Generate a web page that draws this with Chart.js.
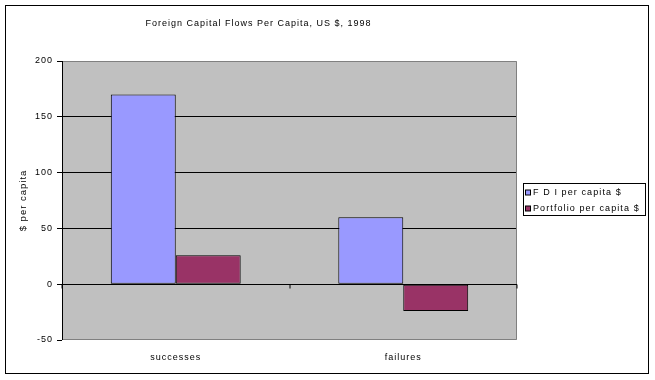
<!DOCTYPE html>
<html><head><meta charset="utf-8">
<script src="https://cdn.jsdelivr.net/npm/chart.js@4/dist/chart.umd.min.js"></script>
<style>html,body{margin:0;padding:0;background:#fff}canvas{display:block}</style>
</head><body>
<canvas id="c" width="655" height="380"></canvas>
<script>
const categories = ["successes", "failures"];
const fdiPerCapita = [170, 60];
const portfolioPerCapita = [26, -24];
const seriesNames = ["F D I per capita $", "Portfolio per capita $"];
const yTicks = [-50, 0, 50, 100, 150, 200];

const FONT = "Liberation Sans, Arial, sans-serif";

const framePlugin = {
  id: 'frame',
  beforeDraw(chart) {
    const {ctx, chartArea: a} = chart;
    ctx.letterSpacing = '1px';
    ctx.save();
    ctx.fillStyle = '#fff';
    ctx.fillRect(0, 0, chart.width, chart.height);
    ctx.strokeStyle = '#000';
    ctx.lineWidth = 1;
    ctx.strokeRect(5.5, 5.5, 643, 368);
    ctx.fillStyle = '#C0C0C0';
    ctx.fillRect(a.left, a.top, a.right - a.left, a.bottom - a.top);
    ctx.restore();
  },
  afterDatasetsDraw(chart) {
    const {ctx, chartArea: a, scales} = chart;
    ctx.save();
    ctx.lineWidth = 1;
    ctx.strokeStyle = '#808080';
    ctx.beginPath();
    ctx.moveTo(a.left, a.top + 0.5); ctx.lineTo(a.right - 0.5, a.top + 0.5);
    ctx.lineTo(a.right - 0.5, a.bottom - 0.5); ctx.lineTo(a.left, a.bottom - 0.5);
    ctx.stroke();
    ctx.strokeStyle = '#000';
    ctx.beginPath();
    ctx.moveTo(a.left + 0.5, a.top); ctx.lineTo(a.left + 0.5, a.bottom);
    ctx.stroke();
    // category axis at zero with tick marks
    const y0 = Math.round(scales.y.getPixelForValue(0)) + 0.5;
    ctx.beginPath();
    ctx.moveTo(a.left, y0); ctx.lineTo(a.right, y0);
    const n = categories.length;
    for (let i = 0; i <= n; i++) {
      const x = Math.round(a.left + (a.right - a.left) * i / n) - 0.5;
      ctx.moveTo(x + 0.5, y0); ctx.lineTo(x + 0.5, y0 + 4);
    }
    ctx.stroke();
    // legend
    const lx = 523.5, ly = 183.5, lw = 122, lh = 32;
    ctx.fillStyle = '#fff';
    ctx.fillRect(lx, ly, lw, lh);
    ctx.strokeStyle = '#000';
    ctx.strokeRect(lx, ly, lw, lh);
    ctx.font = '9px ' + FONT;
    ctx.letterSpacing = '1.1px';
    ctx.textBaseline = 'middle';
    chart.data.datasets.forEach((ds, i) => {
      const yy = ly + 9.5 + i * 16;
      ctx.fillStyle = ds.backgroundColor;
      ctx.fillRect(lx + 2, yy - 3, 5, 5);
      ctx.strokeRect(lx + 2, yy - 3, 5, 5);
      ctx.fillStyle = '#000';
      ctx.fillText(ds.label, lx + 9.5, yy);
    });
    ctx.restore();
  }
};

new Chart(document.getElementById('c'), {
  type: 'bar',
  data: {
    labels: categories,
    datasets: [
      { label: seriesNames[0], data: fdiPerCapita, backgroundColor: '#9999FF', borderColor: '#000', borderWidth: 1, borderSkipped: false },
      { label: seriesNames[1], data: portfolioPerCapita, backgroundColor: '#993366', borderColor: '#000', borderWidth: 1, borderSkipped: false }
    ]
  },
  options: {
    responsive: false,
    animation: false,
    devicePixelRatio: 1,
    layout: { padding: { left: 0, right: 138, top: 0, bottom: 0 } },
    datasets: { bar: { categoryPercentage: 0.571, barPercentage: 1.0 } },
    plugins: {
      legend: { display: false },
      tooltip: { enabled: false },
      title: {
        display: true,
        text: 'Foreign Capital Flows Per Capita, US $, 1998',
        color: '#000',
        font: { family: FONT, size: 9, weight: 'normal', lineHeight: 1.2 },
        padding: { top: 18.5, bottom: 31.7 }
      }
    },
    scales: {
      x: {
        grid: { display: false, drawTicks: false },
        border: { display: false },
        ticks: { color: '#000', font: { family: FONT, size: 9 }, padding: 12 },
        afterFit(s) { s.height = 40; }
      },
      y: {
        min: -50, max: 200,
        afterBuildTicks(s) { s.ticks = yTicks.map(v => ({ value: v })); },
        grid: {
          color: c => (c.tick && (c.tick.value === 200 || c.tick.value === -50)) ? 'rgba(0,0,0,0)' : '#000',
          tickColor: '#000',
          tickLength: 5,
          drawTicks: true
        },
        border: { display: false },
        ticks: { color: '#000', font: { family: FONT, size: 9 }, padding: 4 },
        title: { display: true, text: '$ per capita', color: '#000', font: { family: FONT, size: 9.5 }, padding: { top: 18, bottom: 0 } },
        afterFit(s) { s.width = 62; }
      }
    }
  },
  plugins: [framePlugin]
});
</script>
</body></html>
